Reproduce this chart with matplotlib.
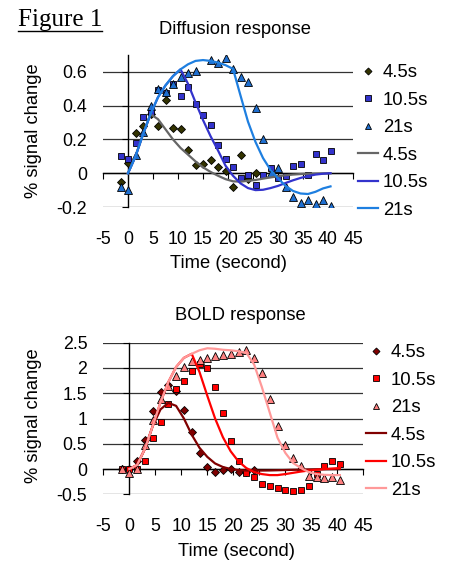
import numpy as np
import matplotlib
matplotlib.use('Agg')
from matplotlib import pyplot as plt
from matplotlib.lines import Line2D
from matplotlib.ticker import FuncFormatter

plt.rcParams['font.family'] = ['Liberation Sans', 'DejaVu Sans']
plt.rcParams['axes.unicode_minus'] = False

# Data (time in seconds, sampled every 1.5 s)
t_pts = np.arange(-1.5, 40.6, 1.5)      # 29 points for the measured series
t_fit = np.arange(0, 40.6, 1.5)         # 28 points for the fitted curves
labels = ['4.5s', '10.5s', '21s']

# Diffusion response - measured points
dif_45 = [-0.05, 0.063, 0.24, 0.28, 0.35, 0.28, 0.435, 0.27, 0.26, 0.135, 0.047,
          0.057, 0.08, 0.037, 0.015, -0.08, 0.105, -0.035, 0.0]
dif_105 = [0.10, 0.086, 0.18, 0.33, 0.36, 0.49, 0.475, 0.53, 0.455, 0.51, 0.41,
           0.347, 0.288, 0.165, 0.085, 0.037, -0.03, -0.012, -0.07, -0.01, 0.033,
           -0.027, -0.016, 0.041, 0.055, -0.01, 0.114, 0.08, 0.13]
dif_21 = [-0.08, -0.10, 0.105, 0.247, 0.40, 0.50, 0.48, 0.53, 0.567, 0.596, 0.606,
          np.nan, 0.669, 0.65, 0.68, 0.616, 0.57, 0.54, 0.386, 0.204, 0.0,
          0.033, -0.08, -0.142, -0.175, -0.16, -0.18, -0.159, -0.196]

# Diffusion response - fitted curves
dif_fit_45 = [0.0, 0.10, 0.23, 0.35, 0.32, 0.26, 0.20, 0.15, 0.11, 0.07, 0.035,
              0.008, -0.015, -0.035, -0.048, -0.05, -0.045, -0.04, -0.032, -0.025,
              -0.018, -0.012, -0.008, -0.005, -0.003, -0.002, -0.001, 0.0]
dif_fit_105 = [0.0, 0.10, 0.23, 0.35, 0.45, 0.52, 0.575, 0.615, 0.53, 0.42, 0.315,
               0.22, 0.135, 0.045, -0.015, -0.06, -0.088, -0.1, -0.098, -0.088,
               -0.075, -0.058, -0.042, -0.028, -0.017, -0.008, -0.003, 0.0]
dif_fit_21 = [0.0, 0.10, 0.23, 0.35, 0.45, 0.52, 0.575, 0.615, 0.645, 0.665, 0.67,
              0.665, 0.655, 0.64, 0.618, 0.46, 0.305, 0.185, 0.09, 0.02, -0.03,
              -0.075, -0.105, -0.12, -0.123, -0.11, -0.09, -0.078]

# BOLD response - measured points
bold_45 = [0.0, 0.0, 0.15, 0.57, 1.14, 1.52, 1.67, 1.55, 1.17, 0.73, 0.31, 0.05,
           -0.05, -0.02, 0.0, -0.05, -0.06, -0.02]
bold_105 = [0.0, 0.0, 0.0, 0.16, 0.61, 0.93, 1.29, 1.59, 1.75, 1.94, 2.07, 1.99,
            1.63, 1.10, 0.56, 0.15, -0.08, -0.16, -0.29, -0.34, -0.38, -0.41,
            -0.43, -0.41, -0.34, -0.10, 0.06, 0.16, 0.10]
bold_21 = [0.0, -0.08, 0.0, 0.48, 0.97, 1.38, 1.64, 1.85, 2.02, 2.13, 2.15, 2.20,
           2.23, 2.26, 2.27, 2.32, 2.35, 2.20, 1.90, 1.38, 0.85, 0.48, 0.21, 0.06,
           -0.14, -0.16, -0.17, -0.16, -0.22]

# BOLD response - fitted curves
bold_fit_45 = [0.0, 0.08, 0.40, 0.85, 1.18, 1.31, 1.25, 1.0, 0.68, 0.42, 0.24, 0.11,
               0.04, 0.0, -0.02, -0.03, -0.03, -0.03, -0.028, -0.024, -0.02, -0.016,
               -0.012, -0.008, -0.005, -0.003, -0.001, 0.0]
bold_fit_105 = [0.0, 0.08, 0.40, 0.85, 1.32, 1.72, 2.02, 2.20, 2.28, 1.92, 1.45, 1.0,
                0.63, 0.35, 0.15, 0.02, -0.06, -0.10, -0.12, -0.12, -0.10, -0.075,
                -0.05, -0.03, -0.015, 0.0, 0.01, 0.02]
bold_fit_21 = [0.0, 0.08, 0.40, 0.85, 1.32, 1.72, 2.02, 2.20, 2.28, 2.35, 2.39, 2.38,
               2.36, 2.35, 2.33, 2.30, 2.07, 1.62, 1.12, 0.62, 0.32, 0.12, 0.02,
               -0.06, -0.10, -0.115, -0.12, -0.12]

x_ticks = np.arange(-5, 46, 5)


def panel(rect, ylim, yticks, title, title_y, pts, fits, pt_colors, fit_colors,
          leg_xy):
    # axis labels live on an overlay axes so they can sit at the plot edge
    lab = fig.add_axes(rect, frameon=False)
    lab.set_xlim(-5, 45)
    lab.set_ylim(*ylim)
    lab.set_xticks(x_ticks)
    lab.set_yticks(yticks)
    fmt = FuncFormatter(lambda v, p: '%g' % v)
    lab.xaxis.set_major_formatter(fmt)
    lab.yaxis.set_major_formatter(fmt)
    lab.tick_params(axis='both', length=0, labelsize=12.8)
    lab.tick_params(axis='y', pad=11.5)
    lab.tick_params(axis='x', pad=17)

    ax = fig.add_axes(rect)
    ax.patch.set_visible(False)
    ax.set_xlim(-5, 45)
    ax.set_ylim(*ylim)
    ax.set_xticks(x_ticks)
    ax.set_yticks(yticks)
    ax.tick_params(labelleft=False, labelbottom=False, direction='out',
                   length=4.5, width=0.8)
    for s in ['top', 'right']:
        ax.spines[s].set_visible(False)
    ax.spines['left'].set_position(('data', 0))
    ax.spines['bottom'].set_position(('data', 0))
    ax.spines['left'].set_linewidth(1.0)
    ax.spines['bottom'].set_linewidth(1.0)
    ax.yaxis.grid(True, color='#333333', lw=0.9)
    ax.set_axisbelow(True)

    handles = []
    mk = ['D', 's', '^']
    ms = [4.2, 5.0, 5.6]
    for y, m, s, c, lb in zip(pts, mk, ms, pt_colors, labels):
        h, = ax.plot(t_pts[:len(y)], y, ls='none', marker=m, ms=s, mfc=c,
                     mec='black', mew=0.6, label=lb, zorder=3)
        handles.append(h)
    for y, c, lb in zip(fits, fit_colors, labels):
        h, = ax.plot(t_fit, y, color=c, lw=1.6, label=lb, zorder=4)
        handles.append(h)

    ax.legend(handles=handles, loc='upper left', bbox_to_anchor=leg_xy,
              bbox_transform=fig.transFigure, frameon=False, fontsize=13.3,
              handlelength=1.1, handletextpad=0.25, labelspacing=0.57,
              borderpad=0, borderaxespad=0, markerscale=0.85)

    fig.text(rect[0] + rect[2] * 0.5 + 0.015, title_y, title, ha='center',
             va='center', fontsize=13.2)
    return ax


fig = plt.figure(figsize=(4.53, 5.62), dpi=100)

top_rect = [103 / 453, 1 - 207 / 562, 250 / 453, 152 / 562]
bot_rect = [103.3 / 453, 1 - 494.3 / 562, 260 / 453, 151.6 / 562]

panel(top_rect, (-0.2, 0.7), [-0.2, 0, 0.2, 0.4, 0.6], 'Diffusion response',
      1 - 29 / 562, [dif_45, dif_105, dif_21],
      [dif_fit_45, dif_fit_105, dif_fit_21],
      ['#333300', '#3333CC', '#1F6FD0'], ['#666666', '#3333CC', '#1E7FE0'],
      (358 / 453, 1 - 64 / 562))

panel(bot_rect, (-0.5, 2.5), [-0.5, 0, 0.5, 1, 1.5, 2, 2.5], 'BOLD response',
      1 - 315 / 562, [bold_45, bold_105, bold_21],
      [bold_fit_45, bold_fit_105, bold_fit_21],
      ['#800000', '#FF0000', '#FF8080'], ['#800000', '#FF0000', '#FF9999'],
      (366 / 453, 1 - 344 / 562))

# axis titles
fig.text(229 / 453, 1 - 263 / 562, 'Time (second)', ha='center', va='center',
         fontsize=13.2)
fig.text(236 / 453, 1 - 552 / 562, 'Time (second)', ha='center', va='center',
         fontsize=13.2)
fig.text(33 / 453, 1 - 131 / 562, '% signal change', ha='center', va='center',
         rotation=90, fontsize=13.2)
fig.text(33 / 453, 1 - 416 / 562, '% signal change', ha='center', va='center',
         rotation=90, fontsize=13.2)

# "Figure 1" heading, underlined
head = fig.text(18 / 453, 1 - 26 / 562, 'Figure 1', ha='left', va='baseline',
                fontsize=18, family='Liberation Serif')
fig.canvas.draw()
bb = head.get_window_extent()
uy = 1 - 31 / 562
fig.add_artist(Line2D([bb.x0 / fig.bbox.width, bb.x1 / fig.bbox.width], [uy, uy],
                      color='black', lw=1.0, transform=fig.transFigure))

fig.savefig('out.png', dpi=100)
